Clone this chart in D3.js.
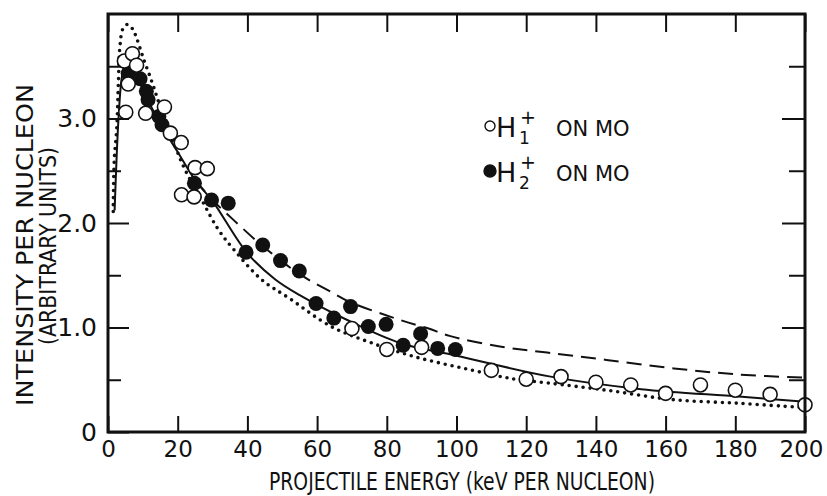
<!DOCTYPE html>
<html>
<head>
<meta charset="utf-8">
<script src="https://cdn.jsdelivr.net/npm/d3@7"></script>
<style>
  html, body { margin: 0; padding: 0; background: #fff; }
  svg { display: block; }
  .axis text { font-family: "DejaVu Sans", sans-serif; fill: #111; }
  .axis line { stroke: #111; stroke-width: 2; }
  .axis path { display: none; }
  .lbl { font-family: "DejaVu Sans", sans-serif; fill: #111; }
  .ttl { font-family: "DejaVu Sans Condensed", "DejaVu Sans", sans-serif; fill: #111; }
</style>
</head>
<body>
<div id="chart"></div>
<script>
// H1+ on Mo (open circles)
const h1Energy = [4.7, 7.0, 8.2, 5.8, 5.1, 10.8, 16.2, 17.9, 21.0, 25.0, 28.5, 21.1, 24.7,
                  70, 80, 90, 110, 120, 130, 140, 150, 160, 170, 180, 190, 200];
const h1Value  = [3.55, 3.62, 3.51, 3.33, 3.06, 3.05, 3.11, 2.86, 2.77, 2.53, 2.52, 2.27, 2.25,
                  0.99, 0.79, 0.81, 0.59, 0.505, 0.53, 0.476, 0.45, 0.37, 0.45, 0.40, 0.36, 0.26];

// H2+ on Mo (filled circles)
const h2Energy = [5.8, 9.2, 11.0, 11.5, 14.6, 15.5, 24.8, 29.7, 34.5, 39.6, 44.4, 49.5, 54.9,
                  59.7, 64.8, 69.6, 74.7, 79.8, 84.7, 89.7, 94.6, 99.7];
const h2Value  = [3.43, 3.38, 3.26, 3.18, 3.02, 2.94, 2.38, 2.22, 2.19, 1.72, 1.79, 1.64, 1.54,
                  1.23, 1.09, 1.20, 1.01, 1.03, 0.83, 0.94, 0.80, 0.79];

// solid curve
const solidE = [1.9, 3.0, 4.0, 5.0, 6.0, 8.0, 10, 12, 15, 20, 25, 30, 40, 48, 55, 70, 84, 100, 127, 153, 181, 200];
const solidV = [2.12, 2.99, 3.40, 3.52, 3.52, 3.42, 3.28, 3.14, 2.95, 2.68, 2.41, 2.21, 1.71, 1.46, 1.31, 1.05, 0.85, 0.73, 0.53, 0.41, 0.34, 0.29];

// dotted curve
const dotE = [1.5, 1.8, 2.5, 3.0, 3.4, 4.3, 5.6, 7.0, 8.2, 10.1, 12.5, 14.4, 16.4, 19.2, 22.1, 26.9, 31.6, 36, 44, 52, 64, 75, 88, 102, 116, 126, 143, 162, 181, 197, 200];
const dotV = [2.11, 2.60, 2.90, 3.36, 3.68, 3.86, 3.90, 3.86, 3.77, 3.58, 3.36, 3.17, 2.98, 2.74, 2.51, 2.22, 1.94, 1.75, 1.46, 1.28, 1.01, 0.86, 0.72, 0.61, 0.51, 0.47, 0.40, 0.31, 0.275, 0.24, 0.235];

// dashed curve
const dashE = [25, 30, 36, 44, 55, 64, 69, 84, 92, 98, 112, 126, 143, 162, 181, 200];
const dashV = [2.41, 2.22, 2.03, 1.79, 1.51, 1.34, 1.25, 1.07, 0.99, 0.92, 0.82, 0.76, 0.69, 0.61, 0.55, 0.52];

const xTicks = d3.range(0, 201, 20);
const yMajor = [0, 1, 2, 3];
const yMinor = [0.5, 1.5, 2.5, 3.5];

const width = 827, height = 496;
const svg = d3.select("#chart").append("svg")
    .attr("width", width)
    .attr("height", height);

const x = d3.scaleLinear().domain([0, 200]).range([108, 805]);
const y = d3.scaleLinear().domain([0, 4]).range([432, 14]);

const zip = (a, b) => a.map((d, i) => [d, b[i]]);

const line = d3.line()
    .x(d => x(d[0]))
    .y(d => y(d[1]))
    .curve(d3.curveCatmullRom.alpha(0.5));

// curves
svg.append("path").datum(zip(solidE, solidV))
    .attr("d", line).attr("fill", "none")
    .attr("stroke", "#111").attr("stroke-width", 2);

svg.append("path").datum(zip(dashE, dashV))
    .attr("d", line).attr("fill", "none")
    .attr("stroke", "#111").attr("stroke-width", 2)
    .attr("stroke-dasharray", "15 8");

svg.append("path").datum(zip(dotE, dotV))
    .attr("d", line).attr("fill", "none")
    .attr("stroke", "#111").attr("stroke-width", 3.6)
    .attr("stroke-linecap", "round")
    .attr("stroke-dasharray", "0 7");

// points
svg.append("g").selectAll("circle")
    .data(zip(h2Energy, h2Value))
    .enter().append("circle")
    .attr("cx", d => x(d[0]))
    .attr("cy", d => y(d[1]))
    .attr("r", 7.5)
    .attr("fill", "#111");

svg.append("g").selectAll("circle")
    .data(zip(h1Energy, h1Value))
    .enter().append("circle")
    .attr("cx", d => x(d[0]))
    .attr("cy", d => y(d[1]))
    .attr("r", 7)
    .attr("fill", "#fff")
    .attr("stroke", "#111")
    .attr("stroke-width", 1.6);

// axes (ticks pointing inward)
svg.append("g").attr("class", "axis")
    .attr("transform", "translate(0,432)")
    .call(d3.axisBottom(x).tickValues(xTicks).tickSizeInner(-16).tickSizeOuter(0).tickPadding(9))
    .selectAll("text")
    .style("font-size", "23px")
    .attr("dx", d => d === 200 ? -4 : 0);

svg.append("g").attr("class", "axis")
    .attr("transform", "translate(0,14)")
    .call(d3.axisTop(x).tickValues(xTicks).tickSizeInner(-18).tickSizeOuter(0).tickFormat(""));

svg.append("g").attr("class", "axis")
    .attr("transform", "translate(108,0)")
    .call(d3.axisLeft(y).tickValues(yMajor).tickSizeInner(-21).tickSizeOuter(0).tickPadding(11)
        .tickFormat(d => d === 0 ? "0" : d3.format(".1f")(d)))
    .selectAll("text").style("font-size", "25px");

svg.append("g").attr("class", "axis")
    .attr("transform", "translate(108,0)")
    .call(d3.axisLeft(y).tickValues(yMinor).tickSizeInner(-13).tickSizeOuter(0).tickFormat(""));

svg.append("g").attr("class", "axis")
    .attr("transform", "translate(805,0)")
    .call(d3.axisRight(y).tickValues(yMajor.slice(1)).tickSizeInner(-23).tickSizeOuter(0).tickFormat(""));

svg.append("g").attr("class", "axis")
    .attr("transform", "translate(805,0)")
    .call(d3.axisRight(y).tickValues(yMinor).tickSizeInner(-16).tickSizeOuter(0).tickFormat(""));

// frame
svg.append("rect")
    .attr("x", 108).attr("y", 14)
    .attr("width", 805 - 108).attr("height", 432 - 14)
    .attr("fill", "none").attr("stroke", "#111").attr("stroke-width", 3);

// axis titles
svg.append("text").attr("class", "ttl")
    .attr("x", 462).attr("y", 490)
    .attr("text-anchor", "middle")
    .attr("textLength", 386).attr("lengthAdjust", "spacingAndGlyphs")
    .style("font-size", "25px")
    .text("PROJECTILE ENERGY (keV PER NUCLEON)");

svg.append("text").attr("class", "ttl")
    .attr("transform", "translate(33,245) rotate(-90)")
    .attr("text-anchor", "middle")
    .attr("textLength", 322).attr("lengthAdjust", "spacingAndGlyphs")
    .style("font-size", "23px")
    .text("INTENSITY PER NUCLEON");

svg.append("text").attr("class", "ttl")
    .attr("transform", "translate(56,246) rotate(-90)")
    .attr("text-anchor", "middle")
    .attr("textLength", 198).attr("lengthAdjust", "spacingAndGlyphs")
    .style("font-size", "23px")
    .text("(ARBITRARY UNITS)");

// legend
const legend = svg.append("g");
const legRows = [
  { open: true, sub: "1", cy: 126, base: 137 },
  { open: false, sub: "2", cy: 171, base: 182 }
];
legRows.forEach(r => {
  legend.append("circle")
      .attr("cx", 490).attr("cy", r.cy).attr("r", r.open ? 5 : 6)
      .attr("fill", r.open ? "#fff" : "#111")
      .attr("stroke", "#111").attr("stroke-width", 1.4);
  legend.append("text").attr("class", "lbl")
      .attr("x", 496).attr("y", r.base)
      .style("font-size", "27px").text("H");
  legend.append("text").attr("class", "lbl")
      .attr("x", 519).attr("y", r.base + 7)
      .style("font-size", "17px").text(r.sub);
  legend.append("text").attr("class", "lbl")
      .attr("x", 520).attr("y", r.base - 13)
      .style("font-size", "19px").text("+");
  legend.append("text").attr("class", "lbl")
      .attr("x", 556).attr("y", r.base - 1)
      .style("font-size", "21px").text("ON  MO");
});
</script>
</body>
</html>
